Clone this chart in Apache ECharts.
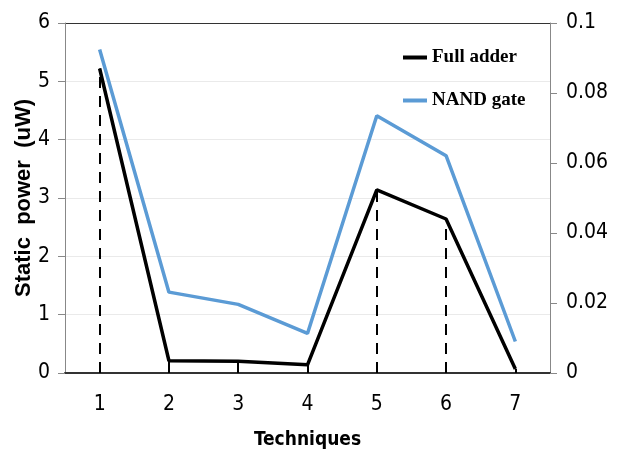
<!DOCTYPE html>
<html>
<head>
<meta charset="utf-8">
<script src="https://cdn.jsdelivr.net/npm/echarts@6/dist/echarts.min.js"></script>
<style>
  html, body { margin: 0; padding: 0; background: #fff; }
  #chart { width: 617px; height: 455px; }
</style>
</head>
<body>
<div id="chart"></div>
<script>
// Data
const techniques = ["1", "2", "3", "4", "5", "6", "7"];
const fullAdder = [5.22, 0.21, 0.2, 0.14, 3.14, 2.64, 0.07]; // uW, left axis
const nandGate = [0.0924, 0.0231, 0.0196, 0.0113, 0.0735, 0.0621, 0.009]; // right axis

const tickFont = "'DejaVu Sans Condensed', 'Liberation Sans Narrow', 'Liberation Sans', sans-serif";

// Dashed drop lines under the full adder points
const dropLines = fullAdder.map((v, i) => [
  { coord: [i, 0] },
  { coord: [i, v] },
]);

let chart = echarts.init(document.getElementById("chart"));

let option = {
  animation: false,
  grid: {
    left: 65,
    right: 67,
    top: 23,
    bottom: 82,
    outerBoundsMode: "none",
  },
  legend: {
    orient: "vertical",
    left: 398,
    top: 43,
    itemWidth: 24,
    itemHeight: 4,
    itemGap: 24,
    icon: "rect",
    textStyle: {
      fontFamily: "'Liberation Serif', 'Times New Roman', serif",
      fontWeight: "bold",
      fontSize: 19,
      color: "#000",
    },
    data: ["Full adder", "NAND gate"],
  },
  xAxis: {
    type: "category",
    data: techniques,
    name: "Techniques",
    nameLocation: "middle",
    nameGap: 58,
    nameTextStyle: {
      fontFamily: tickFont,
      fontWeight: "bold",
      fontSize: 19,
      color: "#000",
    },
    axisLine: { lineStyle: { color: "#333", width: 2 } },
    axisTick: { show: false },
    axisLabel: {
      margin: 21,
      fontFamily: tickFont,
      fontSize: 21,
      color: "#000",
    },
  },
  yAxis: [
    {
      type: "value",
      min: 0,
      max: 6,
      interval: 1,
      name: "Static  power  (uW)",
      nameLocation: "middle",
      nameGap: 30,
      nameMoveOverlap: false,
      nameTextStyle: {
        fontFamily: "'Liberation Sans', Arial, sans-serif",
        fontWeight: "bold",
        fontSize: 22,
        color: "#000",
      },
      axisLine: { show: true, lineStyle: { color: "#888" } },
      axisTick: { show: true, length: 7, lineStyle: { color: "#888" } },
      axisLabel: {
        margin: 15,
        fontFamily: tickFont,
        fontSize: 21,
        color: "#000",
      },
      splitLine: {
        show: true,
        lineStyle: {
          color: ["#eaeaea", "#eaeaea", "#eaeaea", "#eaeaea", "#eaeaea", "#eaeaea", "#333"],
          width: 1,
        },
      },
    },
    {
      type: "value",
      min: 0,
      max: 0.1,
      interval: 0.02,
      axisLine: { show: true, lineStyle: { color: "#888" } },
      axisTick: { show: true, length: 7, lineStyle: { color: "#888" } },
      axisLabel: {
        margin: 16,
        fontFamily: tickFont,
        fontSize: 21,
        color: "#000",
        formatter: (v) => (v === 0 ? "0" : String(+v.toFixed(2))),
      },
      splitLine: { show: false },
    },
  ],
  series: [
    {
      name: "Full adder",
      type: "line",
      yAxisIndex: 0,
      data: fullAdder,
      symbol: "none",
      color: "#000",
      lineStyle: { color: "#000", width: 3.5 },
      z: 3,
      markLine: {
        silent: true,
        symbol: "none",
        animation: false,
        label: { show: false },
        lineStyle: { color: "#000", width: 2, type: [11, 8] },
        data: dropLines,
      },
    },
    {
      name: "NAND gate",
      type: "line",
      yAxisIndex: 1,
      data: nandGate,
      symbol: "none",
      color: "#5b9bd5",
      lineStyle: { color: "#5b9bd5", width: 3.5 },
      z: 2,
    },
  ],
};
chart.setOption(option);
</script>
</body>
</html>
